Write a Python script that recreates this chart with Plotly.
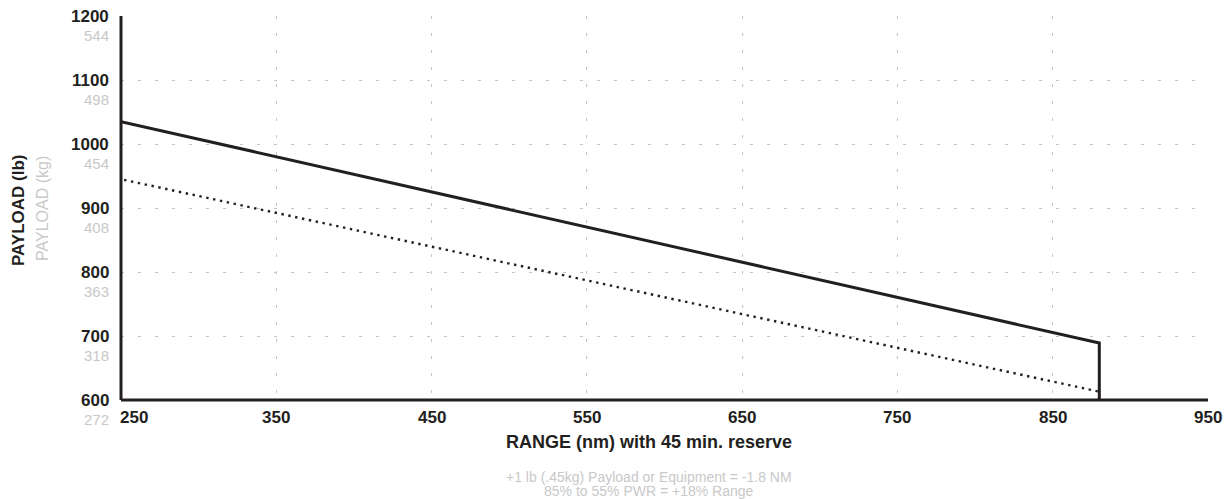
import plotly.graph_objects as go

# Data
range_ticks = [250, 350, 450, 550, 650, 750, 850, 950]
payload_lb_ticks = [600, 700, 800, 900, 1000, 1100, 1200]
payload_kg_labels = ["272", "318", "363", "408", "454", "498", "544"]

solid_range = [250, 880, 880]
solid_payload = [1035, 689, 600]

dotted_range = [252, 880]
dotted_payload = [944, 613]

notes = ["+1 lb (.45kg) Payload or Equipment = -1.8 NM", "85% to 55% PWR = +18% Range"]

FONT = "Liberation Sans, Arial, Helvetica, sans-serif"
DARK = "#231f20"
GREY = "#c8c8c8"

# page body has an 8px margin; figure is sized/offset to compensate
W, H = 1223, 491
L, R, T, B = 113, 23, 8, 99

fig = go.Figure()

fig.add_trace(go.Scatter(x=solid_range, y=solid_payload, mode="lines",
                         line=dict(color=DARK, width=3), hoverinfo="skip", showlegend=False))
fig.add_trace(go.Scatter(x=dotted_range, y=dotted_payload, mode="lines",
                         line=dict(color=DARK, width=2.4, dash="2.4px,4.6px"),
                         hoverinfo="skip", showlegend=False))

annotations = []
# y tick labels (lb bold, kg grey)
for lb, kg in zip(payload_lb_ticks, payload_kg_labels):
    annotations.append(dict(x=0, xref="paper", y=lb, yref="y", xanchor="right", yanchor="middle",
                            xshift=-10, text=f"<b>{lb}</b>", showarrow=False,
                            font=dict(family=FONT, size=17, color=DARK)))
    annotations.append(dict(x=0, xref="paper", y=lb, yref="y", xanchor="right", yanchor="middle",
                            xshift=-10, yshift=-19, text=kg, showarrow=False,
                            font=dict(family=FONT, size=15, color=GREY)))
# x tick labels
for i, r in enumerate(range_ticks):
    annotations.append(dict(x=r, xref="x", y=0, yref="paper",
                            xanchor="left" if i == 0 else "center", yanchor="middle",
                            xshift=-3 if i == 0 else 0, yshift=-17,
                            text=f"<b>{r}</b>", showarrow=False,
                            font=dict(family=FONT, size=17, color=DARK)))
# axis titles
annotations.append(dict(x=0, xref="paper", xshift=-L + 10, y=0.5, yref="paper", yshift=-3,
                        text="<b>PAYLOAD (lb)</b>",
                        textangle=-90, showarrow=False, xanchor="center", yanchor="middle",
                        font=dict(family=FONT, size=17, color=DARK)))
annotations.append(dict(x=0, xref="paper", xshift=-L + 34, y=0.5, yref="paper", yshift=-1,
                        text="PAYLOAD (kg)",
                        textangle=-90, showarrow=False, xanchor="center", yanchor="middle",
                        font=dict(family=FONT, size=16, color=GREY)))
annotations.append(dict(x=0.5, xref="paper", xshift=648 - 664, y=0, yref="paper", yshift=-42,
                        yanchor="middle", xanchor="center",
                        text="<b>RANGE (nm) with 45 min. reserve</b>", showarrow=False,
                        font=dict(family=FONT, size=18, color=DARK)))
for k, note in enumerate(notes):
    annotations.append(dict(x=0.5, xref="paper", xshift=648 - 664, y=0, yref="paper",
                            yshift=-77 - 14 * k, yanchor="middle", xanchor="center",
                            text=note, showarrow=False,
                            font=dict(family=FONT, size=14, color=GREY)))

fig.update_layout(
    width=W, height=H,
    margin=dict(l=L, r=R, t=T, b=B),
    paper_bgcolor="white", plot_bgcolor="white",
    annotations=annotations,
    xaxis=dict(range=[250, 950], tickvals=range_ticks, showticklabels=False,
               showgrid=True, gridcolor="#c4c4c4", gridwidth=1, griddash="3px,14px",
               zeroline=False, showline=False, fixedrange=True),
    yaxis=dict(range=[600, 1200], tickvals=payload_lb_ticks, showticklabels=False,
               showgrid=True, gridcolor="#c4c4c4", gridwidth=1, griddash="3px,14px",
               zeroline=False, showline=False, fixedrange=True),
    shapes=[
        dict(type="line", xref="paper", yref="paper", x0=0, x1=0, y0=0, y1=1,
             line=dict(color=DARK, width=3)),
        dict(type="line", xref="paper", yref="paper", x0=0, x1=1, y0=0, y1=0,
             line=dict(color=DARK, width=3)),
    ],
)

fig.write_html("out.html")
